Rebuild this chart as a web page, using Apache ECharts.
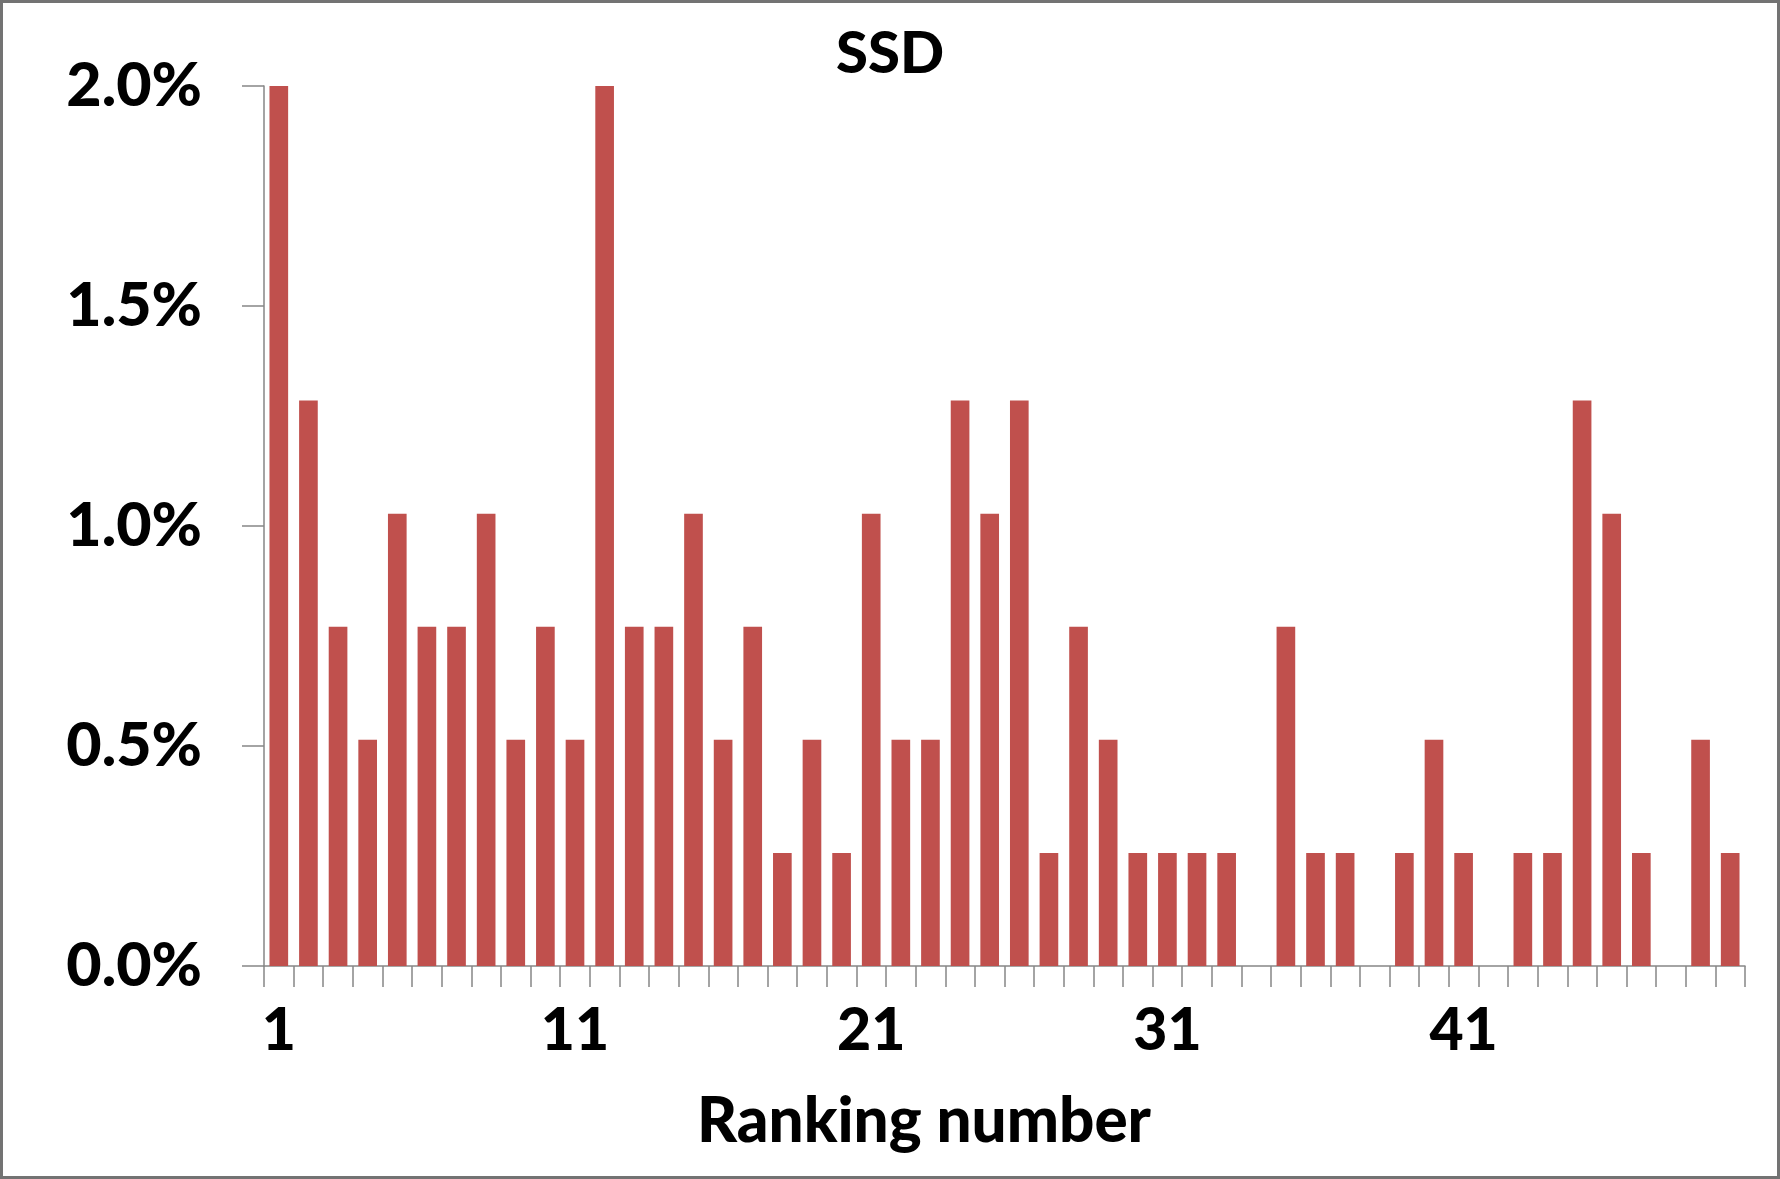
<!DOCTYPE html>
<html>
<head>
<meta charset="utf-8">
<script src="https://cdn.jsdelivr.net/npm/echarts@6/dist/echarts.min.js"></script>
<style>
html,body{margin:0;padding:0;background:#fff;}
#chart{width:1780px;height:1179px;box-sizing:border-box;border:3px solid #737373;}
</style>
</head>
<body>
<div id="chart"></div>
<script>
var titleText = 'SSD';
var xAxisTitle = 'Ranking number';
var categories = [];
for (var i = 1; i <= 50; i++) categories.push(String(i));
var values = [
  2.0, 1.285, 0.771, 0.514, 1.028, 0.771, 0.771, 1.028, 0.514, 0.771,
  0.514, 2.0, 0.771, 0.771, 1.028, 0.514, 0.771, 0.257, 0.514, 0.257,
  1.028, 0.514, 0.514, 1.285, 1.028, 1.285, 0.257, 0.771, 0.514, 0.257,
  0.257, 0.257, 0.257, 0, 0.771, 0.257, 0.257, 0, 0.257, 0.514,
  0.257, 0, 0.257, 0.257, 1.285, 1.028, 0.257, 0, 0.514, 0.257
];
var yTicks = [0, 0.5, 1.0, 1.5, 2.0];

var FONT = 'Lato';
var W = 900;
var chart = echarts.init(document.getElementById('chart'));
chart.setOption({
  animation: false,
  backgroundColor: '#ffffff',
  title: {
    text: titleText,
    left: 'center',
    top: 14,
    textStyle: {fontFamily: FONT, fontWeight: W, fontSize: 58, color: '#000', lineHeight: 64}
  },
  grid: {left: 261, right: 32, top: 83, bottom: 210, containLabel: false},
  xAxis: {
    type: 'category',
    data: categories,
    boundaryGap: true,
    axisLine: {lineStyle: {color: '#868686', width: 1.5}},
    axisTick: {show: true, interval: 0, alignWithLabel: false, length: 21, lineStyle: {color: '#868686', width: 1.5}},
    axisLabel: {interval: 9, margin: 35, fontFamily: FONT, fontWeight: W, fontSize: 59, color: '#000', lineHeight: 60}
  },
  yAxis: {
    type: 'value',
    min: yTicks[0],
    max: yTicks[yTicks.length - 1],
    interval: 0.5,
    splitLine: {show: false},
    axisLine: {show: true, lineStyle: {color: '#868686', width: 1.5}},
    axisTick: {show: true, length: 22, lineStyle: {color: '#868686', width: 1.5}},
    axisLabel: {
      margin: 62,
      fontFamily: FONT, fontWeight: W, fontSize: 61, color: '#000',
      formatter: function (v) { return v.toFixed(1) + '%'; }
    }
  },
  graphic: [{
    type: 'text',
    x: 921, y: 1119,
    style: {text: xAxisTitle, fontFamily: FONT, fontWeight: W, fontSize: 62, fill: '#000', align: 'center', verticalAlign: 'middle'}
  }],
  series: [{
    type: 'bar',
    data: values,
    barCategoryGap: '37%',
    itemStyle: {color: '#C0504D'}
  }]
});
</script>
</body>
</html>
